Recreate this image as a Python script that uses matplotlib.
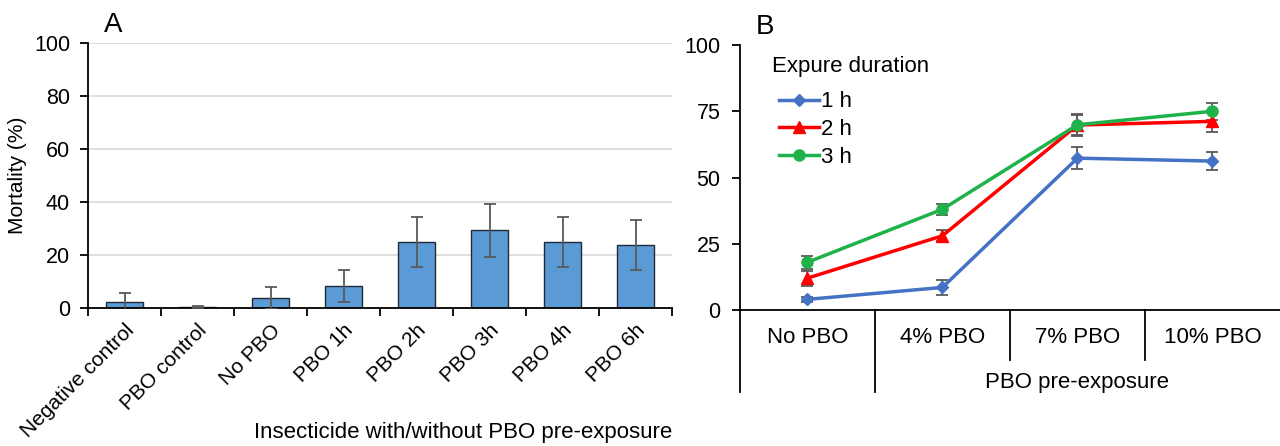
import matplotlib
matplotlib.use('Agg')
import matplotlib.pyplot as plt
import numpy as np

plt.rcParams['font.family'] = ['Liberation Sans', 'DejaVu Sans']

#===== Panel A data =====
cats_a = ['Negative control', 'PBO control', 'No PBO', 'PBO 1h',
          'PBO 2h', 'PBO 3h', 'PBO 4h', 'PBO 6h']
mort_a = [2.5, 0.3, 3.8, 8.5, 25.0, 29.3, 25.0, 23.8]
err_a = [3.3, 0.4, 4.0, 6.0, 9.5, 10.0, 9.5, 9.3]

#===== Panel B data =====
cats_b = ['No PBO', '4% PBO', '7% PBO', '10% PBO']
mort_1h = [4.0, 8.5, 57.3, 56.2]
err_1h = [1.0, 2.9, 4.2, 3.3]
mort_2h = [12.0, 28.0, 69.8, 71.2]
err_2h = [2.8, 2.0, 4.0, 4.0]
mort_3h = [18.0, 38.0, 69.9, 75.0]
err_3h = [2.5, 2.0, 3.8, 3.2]

FS = 15
fig = plt.figure(figsize=(12.8, 4.46), dpi=100)

#===== Panel A =====
axa = fig.add_axes([0.0688, 0.309, 0.4562, 0.595])
xa = np.arange(len(cats_a))
axa.bar(xa, mort_a, width=0.5, color='#5B9BD5', edgecolor='#1F2A36', linewidth=1, zorder=2)
axa.errorbar(xa, mort_a, yerr=err_a, fmt='none', ecolor='#595959', elinewidth=1.3,
             capsize=4, capthick=1.3, zorder=3)
axa.set_ylim(0, 100)
axa.set_xlim(-0.5, len(cats_a) - 0.5)
axa.set_yticks([0, 20, 40, 60, 80, 100])
axa.yaxis.grid(True, color='#D9D9D9', linewidth=1.2, zorder=0)
axa.set_axisbelow(True)
for s in ['top', 'right']:
    axa.spines[s].set_visible(False)
axa.spines['left'].set_linewidth(1.3)
axa.spines['bottom'].set_linewidth(1.3)
axa.tick_params(axis='y', labelsize=FS + 0.5, length=6, width=1.3, pad=7)
axa.set_xticks(xa)
axa.set_xticklabels(cats_a, rotation=45, ha='right', rotation_mode='anchor', fontsize=FS)
axa.tick_params(axis='x', length=0, pad=9)
axa.set_xticks(np.arange(-0.5, len(cats_a), 1), minor=True)
axa.tick_params(axis='x', which='minor', length=6, width=1.3)
axa.set_ylabel('Mortality (%)', fontsize=FS, labelpad=5)
axa.text(1.0, -0.468, 'Insecticide with/without PBO pre-exposure', transform=axa.transAxes,
         ha='right', va='center', fontsize=FS + 1)
axa.text(0.028, 1.02, 'A', transform=axa.transAxes, fontsize=20, va='bottom')

#===== Panel B =====
axb = fig.add_axes([0.578, 0.305, 0.422, 0.594])
xb = np.arange(len(cats_b))
series = [('1 h', mort_1h, err_1h, '#4472C4', 'D', 6),
          ('2 h', mort_2h, err_2h, '#FF0000', '^', 8),
          ('3 h', mort_3h, err_3h, '#1FB24A', 'o', 8)]
for lab, vals, errs, col, mk, ms in series:
    axb.errorbar(xb, vals, yerr=errs, fmt='none', ecolor='#595959', elinewidth=1.3,
                 capsize=4, capthick=1.3, zorder=2)
    axb.plot(xb, vals, color=col, marker=mk, markersize=ms, linewidth=2.5,
             label=lab, zorder=3)
axb.set_ylim(0, 100)
axb.set_xlim(-0.5, len(cats_b) - 0.5)
axb.set_yticks([0, 25, 50, 75, 100])
for s in ['top', 'right']:
    axb.spines[s].set_visible(False)
axb.spines['left'].set_linewidth(1.3)
axb.spines['bottom'].set_linewidth(1.3)
axb.tick_params(axis='y', labelsize=FS + 0.5, length=6, width=1.3, pad=8)
axb.set_xticks([])
axb.text(0.03, 1.02, 'B', transform=axb.transAxes, fontsize=20, va='bottom')

# category labels and separators under the axis
trans = axb.get_xaxis_transform()
for i, c in enumerate(cats_b):
    axb.text(i, -0.105, c, transform=trans, ha='center', va='center', fontsize=FS + 1)
axb.text(2, -0.275, 'PBO pre-exposure', transform=trans, ha='center',
         va='center', fontsize=FS + 1)
for xs, ylow in [(-0.5, -0.31), (0.5, -0.31), (1.5, -0.19), (2.5, -0.19)]:
    axb.plot([xs, xs], [0, ylow], transform=trans, color='black', linewidth=1.3,
             clip_on=False)

axb.text(0.06, 0.92, 'Expure duration', transform=axb.transAxes, ha='left',
         va='center', fontsize=FS + 1)
leg = axb.legend(loc='upper left', bbox_to_anchor=(0.072, 0.825), fontsize=FS + 1,
                 frameon=False, handlelength=1.8, handletextpad=0.1,
                 labelspacing=0.3, borderaxespad=0, borderpad=0)

fig.savefig('out.png', dpi=100)
